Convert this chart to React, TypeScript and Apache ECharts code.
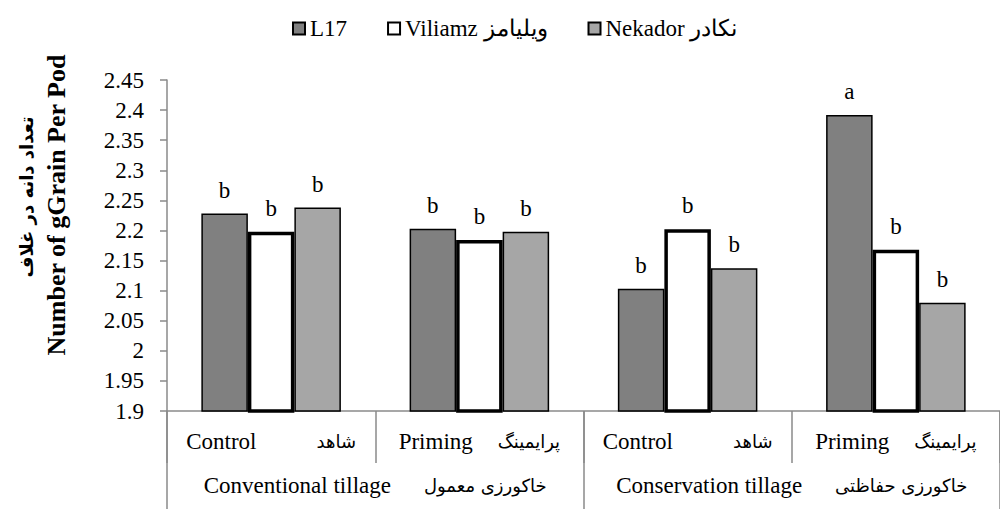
import React, { useEffect, useRef } from 'react';
import * as echarts from 'echarts';

const seriesNames = ['L17', 'Viliamz ویلیامز', 'Nekador نکادر'];
const treatmentsEn = ['Control', 'Priming', 'Control', 'Priming'];
const treatmentsFa = ['شاهد', 'پرایمینگ', 'شاهد', 'پرایمینگ'];
const tillageEn = ['Conventional tillage', 'Conservation tillage'];
const tillageFa = ['خاکورزی معمول', 'خاکورزی حفاظتی'];
const l17Values = [2.228, 2.203, 2.103, 2.392];
const viliamzValues = [2.198, 2.184, 2.202, 2.168];
const nekadorValues = [2.238, 2.198, 2.137, 2.08];
const l17Letters = ['b', 'b', 'b', 'a'];
const viliamzLetters = ['b', 'b', 'b', 'b'];
const nekadorLetters = ['b', 'b', 'b', 'b'];
const yTitleEn = 'Number of gGrain Per Pod';
const yTitleFa = 'تعداد دانه در غلاف';

const SERIF = "'Liberation Serif', 'Times New Roman', serif";
const FA = "'DejaVu Sans', 'Liberation Serif', serif";
const AXIS_GRAY = '#8a8a8a';

export default function App() {
  const ref = useRef<HTMLDivElement>(null);
  useEffect(() => {
    if (!ref.current) return;
    const chart = echarts.init(ref.current, null, { renderer: 'svg' });
    const treatmentCats = treatmentsEn.map((t, i) => t + '|' + treatmentsFa[i]);
    const tillageCats = tillageEn.map((t, i) => t + '|' + tillageFa[i]);
    const mkLabel = (letters: string[]) => ({
      show: true,
      position: 'top',
      distance: 12,
      color: '#000',
      fontFamily: SERIF,
      fontSize: 23,
      formatter: (p: any) => letters[p.dataIndex],
    });
    const grid = { left: 167, right: -8, top: 80, bottom: 98 };
    chart.setOption({
      animation: false,
      backgroundColor: '#fff',
      textStyle: { fontFamily: SERIF },
      legend: {
        left: 287,
        top: 12,
        itemWidth: 12,
        itemHeight: 12,
        itemGap: 40,
        icon: 'rect',
        textStyle: { fontFamily: SERIF, fontSize: 23, color: '#000' },
        data: seriesNames,
      },
      grid: [grid, grid],
      xAxis: [
        {
          type: 'category',
          gridIndex: 0,
          data: treatmentCats,
          position: 'bottom',
          axisLine: { lineStyle: { color: AXIS_GRAY, width: 1.5 } },
          axisTick: { show: true, length: 52, interval: 0, alignWithLabel: false, lineStyle: { color: AXIS_GRAY, width: 1.5 } },
          axisLabel: {
            interval: 0,
            margin: 19,
            formatter: (v: string, i: number) => {
              const parts = v.split('|');
              return '{' + (i % 2 === 0 ? 'en' : 'en2') + '|' + parts[0] + '}{fa|' + parts[1] + '}';
            },
            rich: {
              en: { fontFamily: SERIF, fontSize: 23, color: '#000', padding: [0, 60, 0, 0] },
              en2: { fontFamily: SERIF, fontSize: 23, color: '#000', padding: [0, 25, 0, 0] },
              fa: { fontFamily: FA, fontSize: 18, color: '#000' },
            },
          },
        },
        {
          type: 'category',
          gridIndex: 1,
          data: tillageCats,
          position: 'bottom',
          axisLine: { show: false },
          axisTick: { show: true, length: 100, interval: 0, lineStyle: { color: AXIS_GRAY, width: 1.5 } },
          axisLabel: {
            interval: 0,
            margin: 63,
            formatter: (v: string) => {
              const parts = v.split('|');
              return '{en|' + parts[0] + '}{fa|' + parts[1] + '}';
            },
            rich: {
              en: { fontFamily: SERIF, fontSize: 23, color: '#000', padding: [0, 33, 0, 0] },
              fa: { fontFamily: FA, fontSize: 18, color: '#000' },
            },
          },
        },
      ],
      yAxis: [
        {
          type: 'value',
          gridIndex: 0,
          min: 1.9,
          max: 2.45,
          interval: 0.05,
          axisLine: { show: true, lineStyle: { color: AXIS_GRAY, width: 1.5 } },
          axisTick: { show: true, length: 7, lineStyle: { color: AXIS_GRAY, width: 1.5 } },
          splitLine: { show: false },
          axisLabel: { margin: 23, fontFamily: SERIF, fontSize: 23, color: '#000' },
        },
        {
          type: 'value',
          gridIndex: 1,
          min: 1.9,
          max: 2.45,
          show: false,
        },
      ],
      series: [
        {
          name: seriesNames[0],
          type: 'bar',
          data: l17Values,
          barGap: '0%',
          barCategoryGap: '33%',
          itemStyle: { color: '#808080', borderColor: '#000', borderWidth: 1.5 },
          label: mkLabel(l17Letters),
        },
        {
          name: seriesNames[1],
          type: 'bar',
          data: viliamzValues,
          barGap: '0%',
          barCategoryGap: '33%',
          itemStyle: { color: '#ffffff', borderColor: '#000', borderWidth: 3.5 },
          label: mkLabel(viliamzLetters),
        },
        {
          name: seriesNames[2],
          type: 'bar',
          data: nekadorValues,
          barGap: '0%',
          barCategoryGap: '33%',
          itemStyle: { color: '#a6a6a6', borderColor: '#000', borderWidth: 1.5 },
          label: mkLabel(nekadorLetters),
        },
      ],
      graphic: [
        {
          type: 'text',
          x: 56,
          y: 205,
          rotation: Math.PI / 2,
          style: {
            text: yTitleEn,
            font: "bold 26px 'Liberation Serif', serif",
            fill: '#000',
            align: 'center',
            verticalAlign: 'middle',
          },
        },
        {
          type: 'text',
          x: 26,
          y: 197,
          rotation: Math.PI / 2,
          style: {
            text: yTitleFa,
            font: "bold 18px 'DejaVu Sans', sans-serif",
            fill: '#000',
            align: 'center',
            verticalAlign: 'middle',
          },
        },
      ],
    });
    return () => chart.dispose();
  }, []);
  return <div ref={ref} style={{ width: 1000, height: 509, position: 'absolute', left: 0, top: 0 }} />;
}
